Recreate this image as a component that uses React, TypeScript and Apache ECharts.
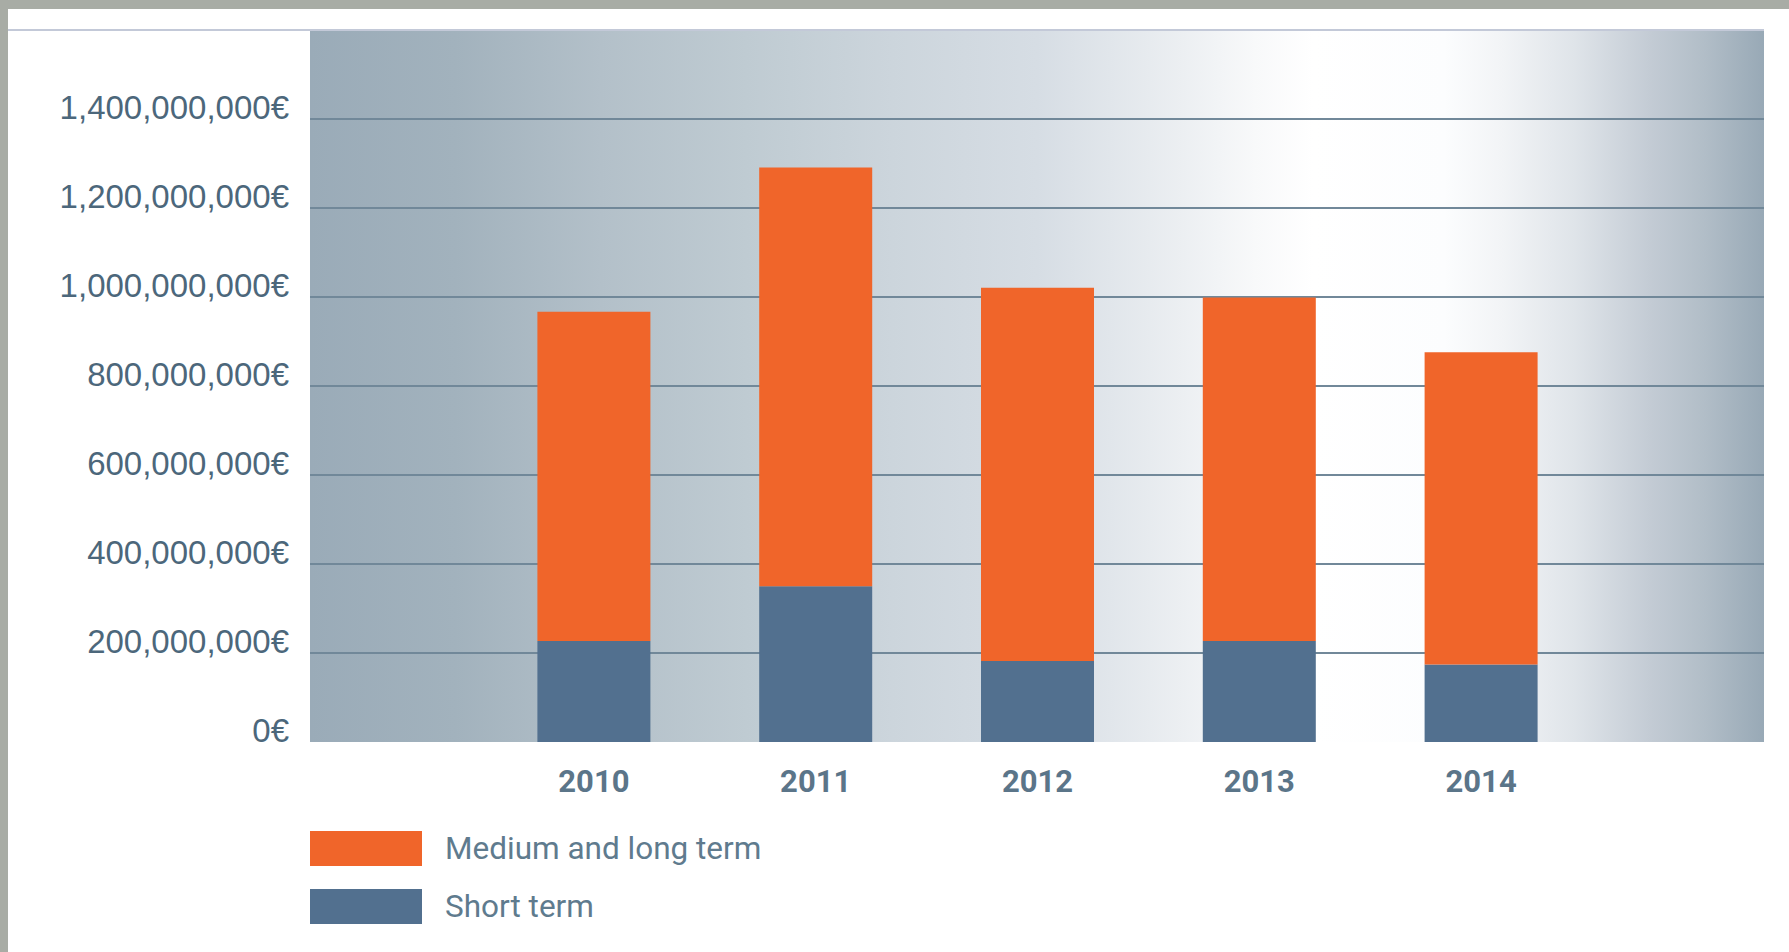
import React, { useEffect, useRef } from "react";
import * as echarts from "echarts";

const years = ["2010", "2011", "2012", "2013", "2014"];
const shortTerm = [227e6, 350e6, 182e6, 227e6, 174e6];
const mediumLongTerm = [740e6, 941e6, 839e6, 772e6, 702e6];
const seriesNames = ["Medium and long term", "Short term"];
const yMin = 0;
const yMax = 1.6e9;
const yStep = 2e8;

const fmt = (v: number) =>
  String(Math.round(v)).replace(/\B(?=(\d{3})+(?!\d))/g, ",") + "€";

export default function App() {
  const ref = useRef<HTMLDivElement>(null);
  useEffect(() => {
    if (!ref.current) return;
    const chart = echarts.init(ref.current, null, { renderer: "svg" });
    const font = "Roboto, 'Noto Sans', sans-serif";
    const yFont = "'Liberation Sans', Roboto, sans-serif";
    const gridColors = ["rgba(0,0,0,0)", "#718899", "#718899", "#718899", "#718899", "#718899", "#718899", "#718899", "rgba(0,0,0,0)"];
    chart.setOption({
      animation: false,
      backgroundColor: "#ffffff",
      graphic: [
        { type: "rect", left: 0, top: 0, shape: { width: 1789, height: 9 }, style: { fill: "#a8aca5" }, z: 10 },
        { type: "rect", left: 0, top: 0, shape: { width: 8, height: 952 }, style: { fill: "#a8aca5" }, z: 10 },
        { type: "line", shape: { x1: 8, y1: 30, x2: 1764, y2: 30 }, style: { stroke: "#c3c9d8", lineWidth: 2 }, z: 10 },
      ],
      grid: [
        {
          left: 310, right: 25, top: 30, bottom: 210, show: true, borderWidth: 0,
          backgroundColor: new echarts.graphic.LinearGradient(0, 0, 1, 0, [
            { offset: 0, color: "#9aabb8" },
            { offset: 0.1, color: "#a2b2bd" },
            { offset: 0.2, color: "#b3c0c9" },
            { offset: 0.3, color: "#bfcbd2" },
            { offset: 0.4, color: "#ccd5dc" },
            { offset: 0.5, color: "#d6dde4" },
            { offset: 0.6, color: "#eceff2" },
            { offset: 0.65, color: "#f8f9fa" },
            { offset: 0.69, color: "#ffffff" },
            { offset: 0.78, color: "#fcfdfe" },
            { offset: 0.82, color: "#f2f4f6" },
            { offset: 0.87, color: "#dfe4e9" },
            { offset: 0.92, color: "#c4ccd5" },
            { offset: 0.96, color: "#b1bdc7" },
            { offset: 1, color: "#98a9b6" },
          ]),
        },
        { left: 483, right: 197, top: 30, bottom: 210 },
      ],
      xAxis: [
        { type: "value", gridIndex: 0, min: 0, max: 1, show: false },
        {
          type: "category", gridIndex: 1, data: years,
          axisLine: { show: false }, axisTick: { show: false },
          axisLabel: { margin: 24, fontSize: 31, fontWeight: "bold", color: "#5b7589", fontFamily: font },
        },
      ],
      yAxis: [
        {
          type: "value", gridIndex: 0, min: yMin, max: yMax, interval: yStep,
          axisLine: { show: false }, axisTick: { show: false },
          axisLabel: {
            showMaxLabel: false, formatter: fmt, fontSize: 33, color: "#4c677b", fontFamily: yFont,
            margin: 21, verticalAlign: "bottom", lineHeight: 24,
          },
          splitLine: { show: true, lineStyle: { color: gridColors, width: 2 } },
        },
        { type: "value", gridIndex: 1, min: yMin, max: yMax, interval: yStep, show: false, splitLine: { show: false } },
      ],
      legend: {
        data: seriesNames, orient: "vertical", left: 310, top: 831, padding: 0,
        itemWidth: 112, itemHeight: 35, itemGap: 23, icon: "rect",
        textStyle: { fontSize: 31.5, color: "#5f7b8e", fontFamily: font, padding: [0, 0, 0, 18] },
        selectedMode: false,
      },
      series: [
        {
          name: seriesNames[1], type: "bar", stack: "total", xAxisIndex: 1, yAxisIndex: 1,
          data: shortTerm, barWidth: 113, itemStyle: { color: "#52708f" },
        },
        {
          name: seriesNames[0], type: "bar", stack: "total", xAxisIndex: 1, yAxisIndex: 1,
          data: mediumLongTerm, barWidth: 113, itemStyle: { color: "#f0652a" },
        },
      ],
    });
    return () => chart.dispose();
  }, []);
  return (
    <div
      ref={ref}
      style={{ position: "fixed", left: 0, top: 0, width: 1789, height: 952 }}
    />
  );
}
